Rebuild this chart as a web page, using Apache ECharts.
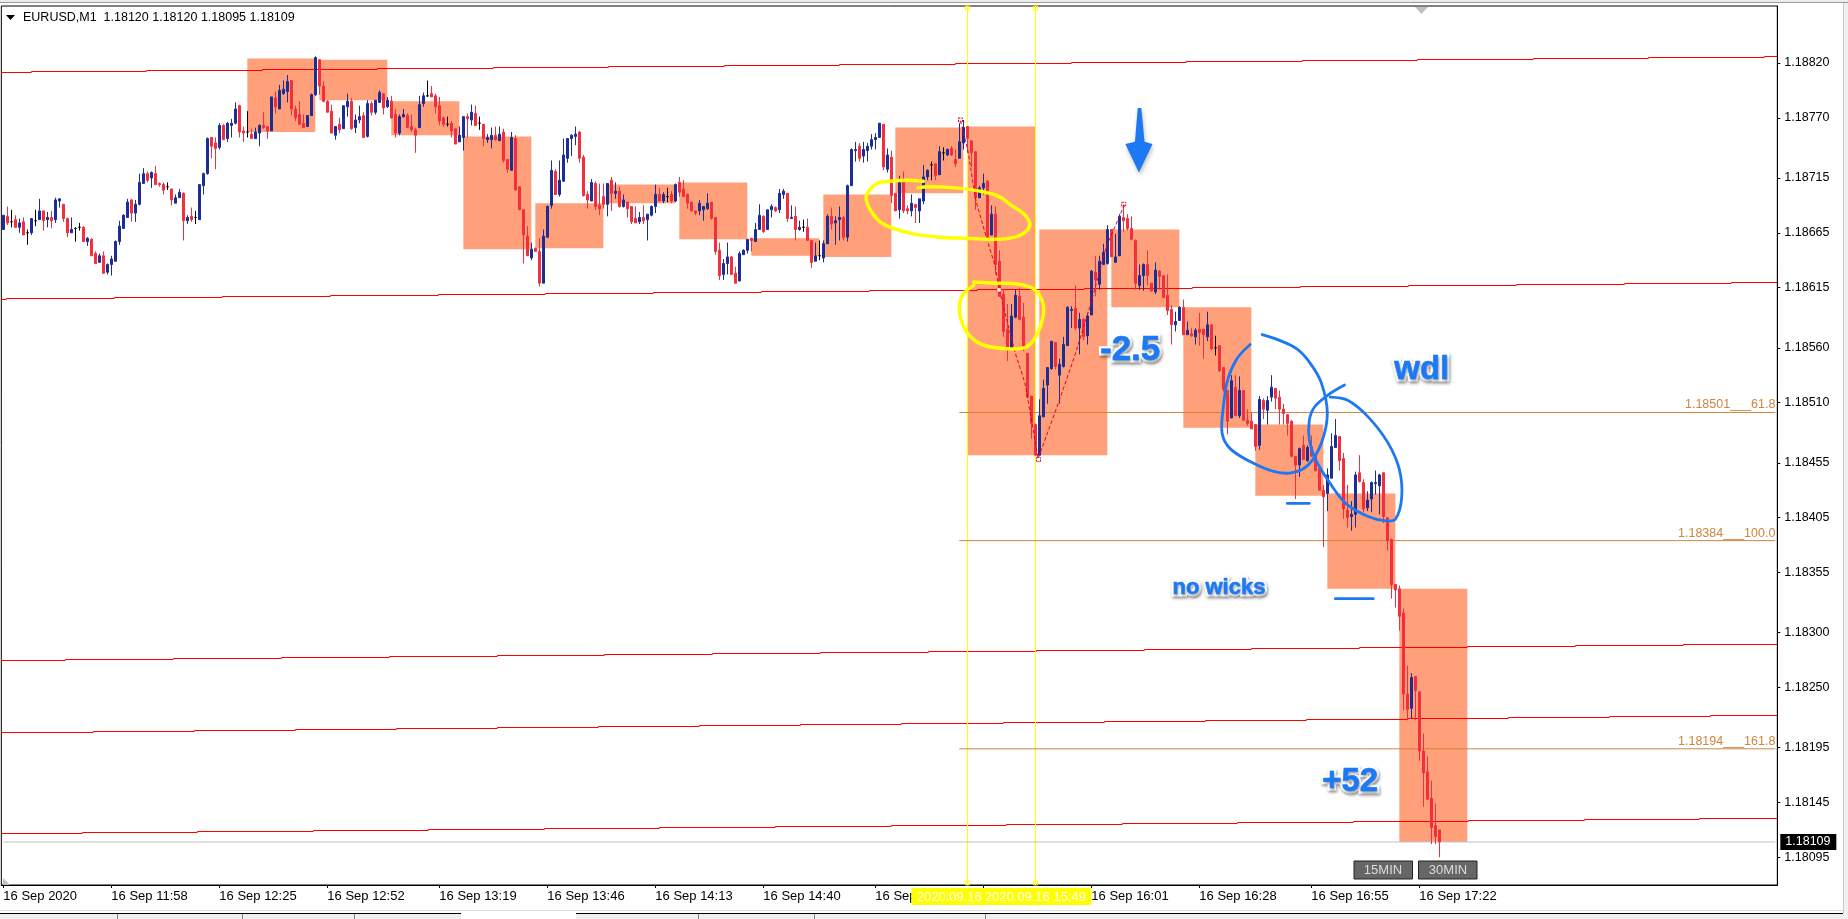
<!DOCTYPE html>
<html>
<head>
<meta charset="utf-8">
<title>EURUSD M1</title>
<style>html,body{margin:0;padding:0;background:#fff}#c{width:1848px;height:919px}</style>
<script src="https://cdn.jsdelivr.net/npm/echarts@6/dist/echarts.min.js"></script>
</head>
<body>
<div id="c"></div>
<script>
// All prices below are in points above this base: 668 means 1.18668
const BASE = 1.18, POINT = 0.00001;

const opens = [
668,680,675,677,670,675,665,665,676,677,
685,677,679,677,694,691,678,665,669,670,
670,657,659,646,638,644,629,636,639,657,
669,679,695,683,691,710,719,715,719,710,
709,707,705,692,697,701,676,680,679,677,
708,719,752,747,743,763,751,763,765,781,
758,757,755,751,756,763,762,758,788,778,
792,794,804,778,773,765,762,772,791,823,
799,785,776,754,764,760,780,785,761,768,
772,753,783,775,784,792,780,785,773,756,
771,772,762,759,761,783,790,792,790,781,
770,764,765,760,748,752,771,768,774,765,
764,750,750,754,749,757,732,722,751,707,
686,662,642,651,648,619,661,690,721,700,
712,733,751,753,757,734,700,694,710,690,
698,691,713,701,703,689,693,689,678,675,
679,677,681,689,700,694,698,700,694,711,
705,700,693,685,685,686,687,693,679,649,
627,637,643,628,621,645,649,660,657,668,
680,668,686,688,686,700,701,678,680,668,
670,670,658,639,644,642,655,680,674,677,
679,661,708,740,744,735,740,744,750,752,
764,723,734,701,686,711,687,685,691,685,
694,716,727,728,718,738,736,742,732,733,
747,762,749,739,697,706,712,663,682,639,
609,577,560,588,607,588,555,516,490,462,
497,526,541,565,535,543,562,594,596,578,
586,571,590,629,618,636,637,668,638,644,
679,678,669,658,617,626,636,619,611,630,
626,608,595,581,585,597,572,573,570,577,
577,570,581,560,562,542,521,496,524,498,
521,494,493,490,471,512,503,515,523,515,
504,499,493,461,453,471,457,470,461,450,
430,427,441,469,479,459,412,406,408,446,
437,414,422,436,434,446,405,385,344,340,
318,244,231,260,246,192,173,149,124,120];

const closes = [
681,674,675,670,674,663,665,678,676,685,
676,679,676,695,696,678,665,668,669,670,
657,660,644,637,644,628,636,641,657,671,
681,693,683,691,711,719,713,720,709,709,
704,707,695,697,702,676,679,677,679,709,
719,751,744,742,763,750,765,765,778,757,
756,757,751,757,763,761,758,789,780,795,
796,803,778,770,764,761,772,791,825,799,
785,775,756,762,759,781,785,760,768,771,
752,783,775,786,793,779,786,770,756,771,
773,761,759,754,782,790,790,789,780,767,
764,764,758,746,754,771,769,775,763,765,
751,752,754,750,755,731,723,752,704,686,
663,644,650,648,619,662,689,722,700,713,
736,751,754,755,733,699,695,711,689,687,
691,710,701,703,689,695,687,675,674,679,
676,682,689,700,694,700,698,694,709,702,
698,692,685,683,692,689,692,678,648,626,
637,643,627,619,646,649,659,658,668,681,
666,686,689,685,701,703,678,679,668,670,
670,658,638,644,644,655,680,673,676,679,
661,708,741,741,733,741,744,750,752,765,
725,736,699,685,711,685,685,692,688,696,
716,722,727,717,739,738,741,736,728,748,
761,751,738,697,706,710,661,682,636,607,
575,560,589,608,586,561,515,491,462,498,
523,542,566,543,545,563,597,595,578,586,
570,589,630,622,639,647,668,643,643,680,
676,669,659,619,626,636,626,612,631,625,
606,594,581,584,597,572,576,571,576,574,
572,581,559,560,539,522,493,530,498,521,
494,491,486,470,513,504,512,524,514,504,
500,491,461,453,468,458,469,461,448,430,
424,444,470,480,457,413,405,408,444,438,
413,421,437,437,444,406,384,344,339,315,
244,230,259,247,192,172,148,122,114,109];

const highs = [
681,689,686,681,678,679,668,678,686,696,
685,684,685,697,696,691,679,679,670,674,
671,661,660,648,646,648,637,644,658,676,
682,696,696,695,719,724,721,721,726,711,
711,711,705,700,705,702,681,688,685,709,
720,752,752,752,765,764,766,769,784,782,
762,776,760,761,764,775,762,789,794,800,
804,809,804,781,785,773,772,792,826,823,
803,786,782,762,770,781,792,788,773,781,
775,786,785,786,795,792,789,790,778,773,
778,774,773,761,790,793,804,799,792,789,
771,771,767,761,762,771,774,782,781,771,
764,755,761,762,762,760,732,757,754,707,
686,671,656,651,660,668,690,731,723,731,
751,751,755,762,758,736,703,714,712,710,
710,710,716,711,707,700,693,689,689,684,
690,682,690,709,706,702,706,703,710,716,
713,701,693,685,695,689,701,693,679,656,
641,656,644,634,648,650,659,660,674,691,
681,686,691,689,705,705,701,690,689,676,
677,678,658,656,658,658,682,688,680,689,
680,709,742,748,747,748,747,755,756,765,
764,742,740,701,717,721,690,700,691,696,
727,723,730,728,744,743,742,744,741,765,
768,762,749,739,708,719,713,690,689,649,
614,600,600,613,615,601,555,516,491,513,
531,542,566,565,550,570,598,598,617,592,
587,592,631,644,644,655,672,668,664,682,
691,682,680,659,636,637,649,619,638,631,
626,627,599,593,598,604,584,578,578,592,
577,593,581,571,562,542,521,535,535,534,
521,504,501,490,516,514,516,535,523,521,
509,499,494,461,469,480,471,480,461,450,
435,450,482,495,479,464,435,420,447,462,
440,429,438,448,445,446,405,386,344,343,
322,270,263,260,246,208,187,165,144,120];

const lows = [
668,672,670,670,665,663,654,663,671,677,
667,670,669,674,688,675,661,665,657,667,
657,653,644,637,638,628,627,626,639,654,
669,679,675,675,690,710,711,706,709,707,
700,704,690,692,697,658,673,675,673,677,
700,718,733,723,741,750,748,752,764,752,
748,752,751,751,744,760,751,758,774,778,
791,784,772,767,764,761,762,772,790,791,
784,775,756,750,756,760,771,759,756,765,
752,752,772,773,784,773,779,769,752,754,
770,761,757,738,761,780,789,789,774,763,
762,762,752,746,748,740,752,763,763,759,
744,747,742,749,749,729,720,722,704,686,
637,644,640,648,616,619,660,687,700,698,
712,729,735,745,729,698,687,694,686,681,
687,680,685,696,688,688,679,673,674,673,
673,658,680,683,694,692,693,692,693,698,
698,687,685,681,681,676,686,677,645,622,
622,627,627,619,621,645,646,648,657,668,
665,668,679,684,683,696,675,678,658,667,
666,658,633,639,640,638,655,668,654,658,
658,657,708,730,730,729,730,741,741,752,
722,720,692,685,678,683,682,680,674,674,
691,713,713,713,718,731,735,735,725,733,
741,738,725,686,697,700,660,663,627,607,
570,548,560,587,585,557,515,477,462,462,
497,509,540,540,509,542,562,578,576,554,
567,563,590,607,613,636,636,643,638,644,
666,667,658,613,613,612,617,611,609,613,
606,590,563,575,585,572,572,570,563,562,
550,566,558,553,538,520,481,496,498,496,
493,489,486,466,467,495,490,511,504,490,
490,480,460,422,442,458,456,461,447,430,
378,411,441,469,448,404,396,393,396,437,
410,411,410,426,408,400,375,331,323,302,
229,220,222,220,183,141,147,107,107,95];

const barCount = 444;
const tickIndex = [0,27,54,81,109,136,163,190,218,245,272,299,327,354];
const tickLabels = ['16 Sep 2020','16 Sep 11:58','16 Sep 12:25','16 Sep 12:52','16 Sep 13:19','16 Sep 13:46','16 Sep 14:13','16 Sep 14:40','16 Sep 15:07','16 Sep 15:34','16 Sep 16:01','16 Sep 16:28','16 Sep 16:55','16 Sep 17:22'];
const yTicks = [1.18820,1.18770,1.18715,1.18665,1.18615,1.18560,1.18510,1.18455,1.18405,1.18355,1.18300,1.18250,1.18195,1.18145,1.18095];
const yMin = 1.180697, yMax = 1.18872;

const symbolName = 'EURUSD,M1';
const headerValues = ['1.18120','1.18120','1.18095','1.18109'];
const lastPrice = 109;

// higher-timeframe boxes: first bar, last bar, top price, bottom price
const boxes = [
[61,78,824.5,757],[79,96,822.6,786],[97,114,785,754],[115,132,753,650.5],
[133,150,692,651],[151,168,708.6,692],[169,186,711,659],[187,204,660,644.5],
[205,222,699.5,643],[223,240,760.8,701.3],[241,258,761.6,462.2],[259,276,668.4,462],
[277,294,668,597],[295,312,597,487],[313,330,489.6,425],[331,348,427.5,340],[349,366,340,108.7]];

// red trend lines: left bar, left price, right bar, right price
const trendLines = [
[0,811.5,443,826.2],[0,605,443,619.8],[0,275,443,290.3],[0,209.4,443,224.6],[0,116.7,443,131.5]];

const fiboStartBar = 239, fiboEndBar = 443;
const fiboLevels = [501,384,194];
const fiboTexts = ['1.18501___61.8','1.18384___100.0','1.18194___161.8'];

const verticalBars = [241,258];
const verticalTexts = ['2020.09.16 15:32','2020.09.16 15:49'];

const zigzag = [[239.3,767.3],[241.1,740.6],[243.1,695],[245.5,664.5],[248,634],[249,613.4],[250,597.5],[253,555],[255.4,527.6],[257.9,475.9],[258.7,459],[260.4,475.9],[263.9,510.8],[267.8,551.9],[271.7,597.5],[275.7,652.3],[280.2,690.4]];
const zigzagPeaks = [[239.3,768],[258.8,458],[280.1,691]];
const zigzagNode = [249,613.4];

const yellowUpper = [[230,712.3],[225.8,713.2],[221.7,712.5],[218.3,709.5],[216.2,702.5],[215.7,695.6],[216.7,685.8],[219.2,675.1],[222.5,669.1],[227.5,664.5],[234.2,661.4],[240.8,659.6],[248,659.3],[253,661.4],[255.9,667.5],[256.6,673.7],[254.9,682.8],[252,690.3],[249,697.9],[244.1,703.4],[238.1,705.6],[231.2,706.5],[228.7,706.1]];
const yellowLower = [[242.6,620.3],[248,619.4],[253.9,618],[257.9,612.8],[259.9,600.6],[259.9,588.4],[258.4,571.7],[255.9,560.5],[252,558.6],[246.6,560.5],[243.1,565.6],[240.6,576.3],[239.1,591.5],[239.6,606.7],[242.6,617.4]];
const blueLeft = [[311.7,563.5],[308.4,550.4],[306.1,530.6],[305,506.3],[304.7,482],[306.7,468.3],[312.3,454.6],[317.8,446.9],[322.3,446],[326.2,453],[329.5,472.9],[331,500.2],[329.5,527.6],[326.7,545.9],[323.4,559],[318.9,567.1],[314.7,572.3]];
const blueRight = [[335.3,525.8],[331.2,517],[327.8,506.3],[326.5,494.1],[326.5,475.9],[328.1,457.6],[331.2,439.4],[335.6,418.1],[341.2,405.9],[345.7,402.2],[348.1,404.4],[349.6,424.1],[349,448.5],[346.2,472.9],[341.2,497.1],[336.2,512.4],[331.7,515.4]];
const blueDashes = [[[321,418],[326.5,418]],[[333,331.4],[342.5,331.4]]];
const blueArrow = [[283.6,779],[284.5,779],[285.3,748],[287.3,746],[283.9,720.5],[280.5,746],[282.9,748]];
const callouts = [['-2.5',281.7,558.5,35],['wdl',354.6,540,33],['no wicks',303.9,341,22],['+52',336.7,164.5,33]];

// ---------------------------------------------------------------------
const RED='#f22f3f', BLUE='#1a2e96', ANNOT='#1d78f4', YEL='#ffff00', PERU='#cd853f';
const FONT='"Liberation Sans", Arial, sans-serif';
const px = v => +(BASE + v*POINT).toFixed(5);
const candleData = opens.map((o,i)=>[px(o),px(closes[i]),px(lows[i]),px(highs[i])]);
const categories = Array.from({length:barCount},(_,i)=>{const k=tickIndex.indexOf(i);return k>=0?tickLabels[k]:' '+i;});
const isTick = i => tickIndex.indexOf(i)>=0;

// Position of a (possibly fractional) bar number and a price in points
function at(api,bar,p){
  const f=Math.floor(bar);
  const a=api.coord([f,px(p)]), b=api.coord([f+1,px(p)]);
  return [a[0]+(b[0]-a[0])*(bar-f),a[1]];
}
function strokeSeries(list,color,width,smooth,z,dash){
  return {type:'custom',coordinateSystem:'cartesian2d',z:z,silent:true,clip:false,
    data:list.map((_,i)=>[i]),encode:{x:-1,y:-1},
    renderItem:(params,api)=>({type:'polyline',
      shape:{points:list[params.dataIndex].map(q=>at(api,q[0],q[1])),smooth:smooth},
      style:{stroke:color,lineWidth:width,fill:null,lineDash:dash||null,lineCap:'round',lineJoin:'round'}})};
}

const option={
  animation:false,
  backgroundColor:'#ffffff',
  title:{text:symbolName+'  '+headerValues.join(' '),left:23,top:11,padding:0,
    textStyle:{fontFamily:FONT,fontSize:12.5,fontWeight:'normal',color:'#000',lineHeight:14}},
  grid:{left:1.33,top:6,width:barCount*4,height:879,show:true,backgroundColor:'#fff',borderColor:'#000',borderWidth:1,containLabel:false},
  xAxis:{type:'category',data:categories,boundaryGap:true,
    axisLine:{show:true,lineStyle:{color:'#000',width:1}},
    axisTick:{show:true,length:3,alignWithLabel:true,interval:isTick,lineStyle:{color:'#000'}},
    axisLabel:{interval:isTick,align:'left',margin:5,color:'#000',fontFamily:FONT,fontSize:13,hideOverlap:false},
    splitLine:{show:false}},
  yAxis:{type:'value',position:'right',min:yMin,max:yMax,scale:true,
    axisLine:{show:true,lineStyle:{color:'#000',width:1}},
    axisTick:{show:true,length:3,customValues:yTicks,lineStyle:{color:'#000'}},
    axisLabel:{customValues:yTicks,margin:7,color:'#000',fontFamily:FONT,fontSize:12.5,formatter:v=>v.toFixed(5)},
    splitLine:{show:false}},
  series:[
    // boxes
    {type:'custom',coordinateSystem:'cartesian2d',z:1,silent:true,clip:true,
      data:boxes,encode:{x:[0,1],y:[2,3]},
      renderItem:(params,api)=>{
        const b=boxes[params.dataIndex];
        const a=at(api,b[0],b[2]),c=at(api,b[1],b[3]);
        return {type:'rect',shape:{x:a[0],y:a[1],width:c[0]-a[0],height:c[1]-a[1]},style:{fill:'#ffa07a'}};
      }},
    // last price line
    {type:'line',z:2,silent:true,symbol:'none',data:[[0,px(lastPrice)],[barCount-1,px(lastPrice)]],lineStyle:{color:'#c0c0c0',width:1}},
    // fibonacci levels
    ...fiboLevels.map(v=>({type:'line',z:2,silent:true,symbol:'none',data:[[fiboStartBar,px(v)],[fiboEndBar,px(v)]],lineStyle:{color:PERU,width:1}})),
    // stepped trend lines
    {type:'custom',coordinateSystem:'cartesian2d',z:2,silent:true,clip:false,
      data:trendLines.map((_,i)=>[i]),encode:{x:-1,y:-1},
      renderItem:(params,api)=>{
        const t=trendLines[params.dataIndex];
        const a=at(api,t[0],t[1]),b=at(api,t[2],t[3]);
        const left=params.coordSys.x,right=left+params.coordSys.width;
        const s=(b[1]-a[1])/(b[0]-a[0]);
        const pts=[];let last=null;
        for(let x=left;x<=right;x+=1){
          const y=Math.round(a[1]+(x-a[0])*s)+0.5;
          if(last!==null&&y!==last)pts.push([x,last]);
          if(y!==last)pts.push([x,y]);
          last=y;
        }
        pts.push([right,last]);
        return {type:'polyline',shape:{points:pts},style:{stroke:'#ff0000',lineWidth:1,fill:null}};
      }},
    // vertical markers
    {type:'custom',coordinateSystem:'cartesian2d',z:2,silent:true,clip:false,
      data:verticalBars.map((_,i)=>[i]),encode:{x:-1,y:-1},
      renderItem:(params,api)=>{
        const p=at(api,verticalBars[params.dataIndex],lastPrice);
        const top=params.coordSys.y,bot=top+params.coordSys.height,x=Math.round(p[0])+0.5;
        return {type:'group',children:[
          {type:'line',shape:{x1:x,y1:top,x2:x,y2:bot},style:{stroke:YEL,lineWidth:1}},
          {type:'rect',shape:{x:x-2,y:top,width:4,height:4},style:{stroke:YEL,fill:null,lineWidth:1}},
          {type:'rect',shape:{x:x-2,y:bot-4,width:4,height:4},style:{stroke:YEL,fill:null,lineWidth:1}}]};
      }},
    // price bars
    {type:'candlestick',z:3,data:candleData,barWidth:3,silent:true,clip:false,progressive:0,
      itemStyle:{color:BLUE,color0:RED,borderColor:BLUE,borderColor0:RED,borderColorDoji:'#000',borderWidth:1}},
    // zigzag
    strokeSeries([zigzag],'#e8001c',1,0,4,[3,3]),
    {type:'custom',coordinateSystem:'cartesian2d',z:4,silent:true,clip:false,
      data:zigzagPeaks.map((_,i)=>[i]),encode:{x:-1,y:-1},
      renderItem:(params,api)=>{
        const q=zigzagPeaks[params.dataIndex],p=at(api,q[0],q[1]);
        return {type:'rect',shape:{x:p[0]-2,y:p[1]-2,width:4,height:4},style:{stroke:'#e8001c',fill:null,lineWidth:1,lineDash:[2,1]}};
      }},
    {type:'custom',coordinateSystem:'cartesian2d',z:4,silent:true,clip:false,data:[[0]],encode:{x:-1,y:-1},
      renderItem:(params,api)=>{const p=at(api,zigzagNode[0],zigzagNode[1]);
        return {type:'rect',shape:{x:Math.round(p[0])-2,y:Math.round(p[1])-2,width:4,height:4},style:{fill:'#fff',stroke:'#e8001c',lineWidth:0.5}};}},
    // hand-drawn marks
    strokeSeries([yellowUpper,yellowLower],YEL,3.5,0.35,5),
    strokeSeries([blueLeft,blueRight],ANNOT,2.8,0.35,5),
    strokeSeries(blueDashes,ANNOT,2.8,0,5),
    {type:'custom',coordinateSystem:'cartesian2d',z:5,silent:true,clip:false,data:[[0]],encode:{x:-1,y:-1},
      renderItem:(params,api)=>({type:'polygon',shape:{points:blueArrow.map(q=>at(api,q[0],q[1]))},
        style:{fill:ANNOT,shadowColor:'rgba(0,0,0,0.25)',shadowBlur:4,shadowOffsetX:1,shadowOffsetY:3}})},
    // callouts: a white, shadowed halo with the blue text on top
    {type:'custom',coordinateSystem:'cartesian2d',z:6,silent:true,clip:false,
      data:callouts.map((_,i)=>[i]),encode:{x:-1,y:-1},
      renderItem:(params,api)=>{
        const c=callouts[params.dataIndex],p=at(api,c[1],c[2]);
        const base={text:c[0],x:p[0],y:p[1],textAlign:'center',textVerticalAlign:'middle',font:'bold '+c[3]+'px '+FONT};
        return {type:'group',children:[
          {type:'text',z2:1,style:Object.assign({},base,{fill:'#fff',stroke:'#fff',lineWidth:5,
            textShadowColor:'rgba(0,0,0,0.4)',textShadowBlur:3,textShadowOffsetX:1,textShadowOffsetY:2})},
          {type:'text',z2:2,style:Object.assign({},base,{fill:ANNOT,stroke:ANNOT,lineWidth:0.6})}]};
      }},
    // fibo captions
    {type:'custom',coordinateSystem:'cartesian2d',z:6,silent:true,clip:false,
      data:fiboLevels.map((_,i)=>[i]),encode:{x:-1,y:-1},
      renderItem:(params,api)=>{
        const p=at(api,fiboEndBar,fiboLevels[params.dataIndex]);
        return {type:'text',style:{text:fiboTexts[params.dataIndex],x:p[0],y:p[1]-1,textAlign:'right',textVerticalAlign:'bottom',
          font:'12.5px '+FONT,fill:PERU}};
      }},
    // date tags of the vertical markers
    {type:'custom',coordinateSystem:'cartesian2d',z:7,silent:true,clip:false,
      data:verticalBars.map((_,i)=>[i]),encode:{x:-1,y:-1},
      renderItem:(params,api)=>{
        const p=at(api,verticalBars[params.dataIndex],lastPrice);
        const bot=params.coordSys.y+params.coordSys.height;
        const first=params.dataIndex===0;
        return {type:'group',children:[
          {type:'rect',shape:{x:p[0]-(first?56:52),y:bot+3,width:first?112:108,height:17},style:{fill:YEL}},
          {type:'text',style:{text:verticalTexts[params.dataIndex],x:p[0],y:bot+12,textAlign:'center',textVerticalAlign:'middle',font:'13px '+FONT,fill:'#fff'}}]};
      }},
    // last price tag
    {type:'custom',coordinateSystem:'cartesian2d',z:7,silent:true,clip:false,data:[[0]],encode:{x:-1,y:-1},
      renderItem:(params,api)=>{
        const p=at(api,0,lastPrice);
        const x=params.coordSys.x+params.coordSys.width+3;
        return {type:'group',children:[
          {type:'rect',shape:{x:x,y:p[1]-8,width:56,height:16},style:{fill:'#000'}},
          {type:'text',style:{text:px(lastPrice).toFixed(5),x:x+5,y:p[1],textAlign:'left',textVerticalAlign:'middle',font:'12.5px '+FONT,fill:'#fff'}}]};
      }}
  ],
  graphic:[
    {type:'rect',silent:true,shape:{x:0,y:0,width:1848,height:2},style:{fill:'#ececec'}},
    {type:'rect',silent:true,shape:{x:0,y:2,width:1848,height:1},style:{fill:'#9a9a9a'}},
    {type:'rect',silent:true,shape:{x:1843,y:3,width:5,height:916},style:{fill:'#f0f0f0'}},
    {type:'rect',silent:true,shape:{x:1843,y:3,width:1,height:910},style:{fill:'#c8c8c8'}},
    {type:'polygon',silent:true,shape:{points:[[6,15],[15,15],[10.5,20]]},style:{fill:'#000'}},
    {type:'polygon',silent:true,shape:{points:[[1415,7],[1428,7],[1421.5,14]]},style:{fill:'#c0c0c0'}},
    {type:'polygon',silent:true,shape:{points:[[3,878],[3,885],[10,885]]},style:{fill:'#c0c0c0'}},
    {type:'rect',silent:true,shape:{x:1354,y:861,width:58.5,height:18},style:{fill:'#666',stroke:'#222',lineWidth:1}},
    {type:'text',silent:true,style:{text:'15MIN',x:1383,y:870,textAlign:'center',textVerticalAlign:'middle',font:'13px '+FONT,fill:'#ddd'}},
    {type:'rect',silent:true,shape:{x:1418.5,y:861,width:58.5,height:18},style:{fill:'#666',stroke:'#222',lineWidth:1}},
    {type:'text',silent:true,style:{text:'30MIN',x:1448,y:870,textAlign:'center',textVerticalAlign:'middle',font:'13px '+FONT,fill:'#ddd'}},
    {type:'rect',silent:true,shape:{x:0,y:910,width:1843,height:1},style:{fill:'#dcdcdc'}},
    {type:'rect',silent:true,shape:{x:0,y:914,width:461,height:5},style:{fill:'#f0f0f0'}},
    {type:'rect',silent:true,shape:{x:576,y:914,width:1272,height:5},style:{fill:'#f0f0f0'}},
    {type:'rect',silent:true,shape:{x:0,y:913,width:461,height:1},style:{fill:'#000'}},
    {type:'rect',silent:true,shape:{x:576,y:913,width:1267,height:1},style:{fill:'#000'}},
    ...[117,242,354,698,814,985].map(x=>({type:'rect',silent:true,shape:{x:x,y:914,width:1,height:5},style:{fill:'#808080'}}))
  ]
};
const chart=echarts.init(document.getElementById('c'),null,{renderer:'canvas'});
chart.setOption(option);
</script>
</body>
</html>
